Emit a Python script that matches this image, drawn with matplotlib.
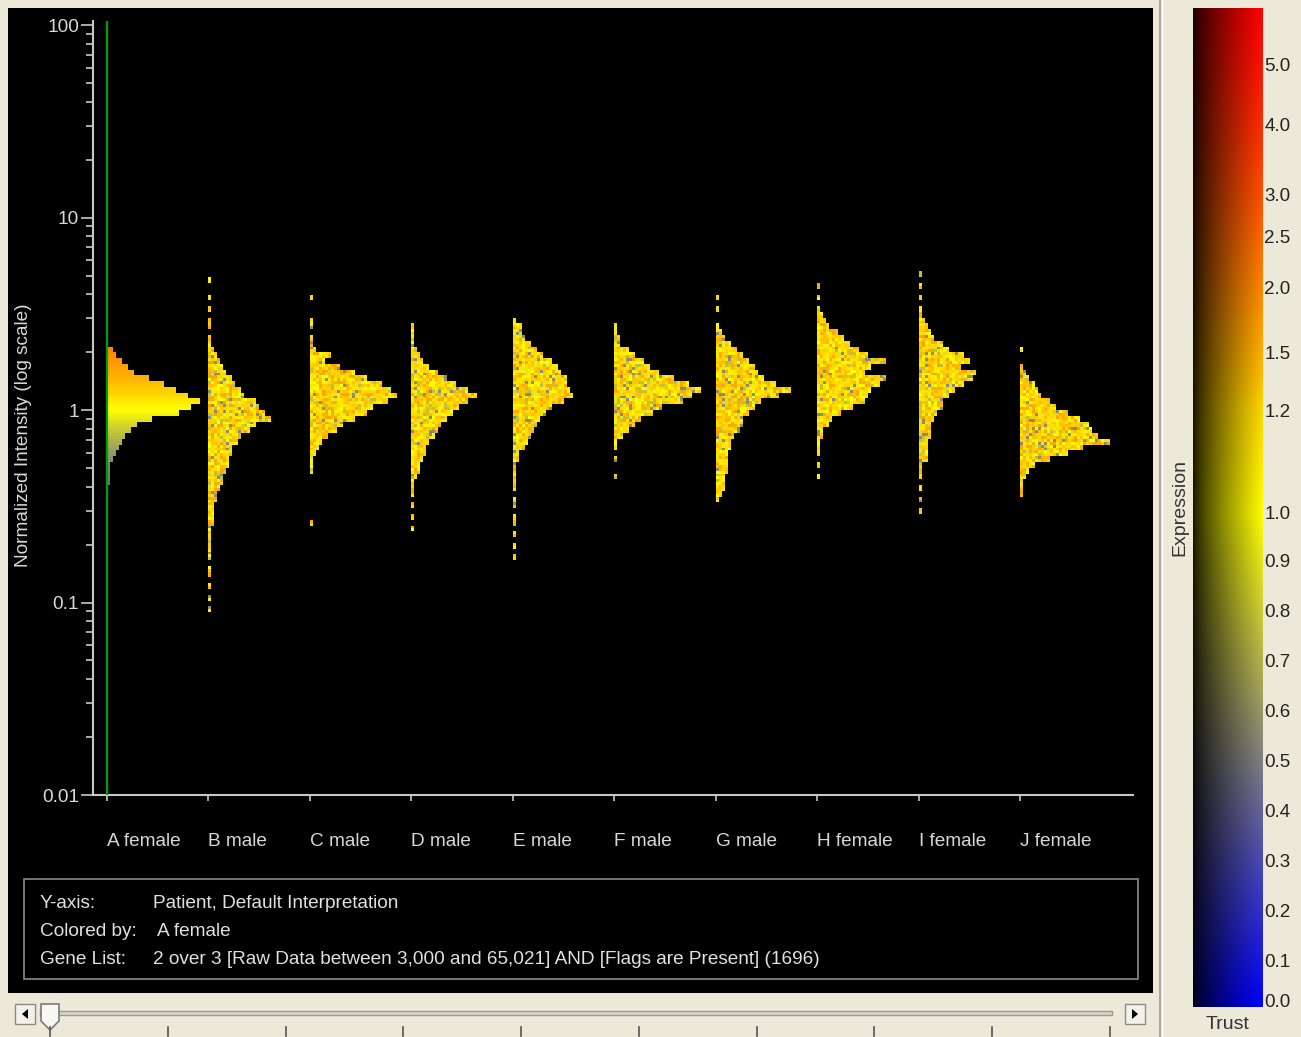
import numpy as np
import matplotlib
matplotlib.use("Agg")
import matplotlib.pyplot as plt
from matplotlib.colors import LinearSegmentedColormap
from matplotlib.patches import Rectangle, Polygon
from matplotlib.ticker import FixedLocator, FixedFormatter, LogLocator, NullFormatter

plt.rcParams['font.family'] = ['Liberation Sans', 'DejaVu Sans']

# ---------------- data ----------------
samples = ["A female", "B male", "C male", "D male", "E male",
           "F male", "G male", "H female", "I female", "J female"]
colored_by_index = 0          # histograms are coloured by "A female"
bin_step = 0.03               # width of one histogram bin in log10(normalized intensity)
# bin k spans 10**(k*bin_step) .. 10**((k+1)*bin_step); counts listed from the top bin downward
top_bin = [10, 22, 19, 14, 15, 14, 19, 21, 23, 10]
counts_A = [5, 7, 14, 21, 27, 40, 55, 68, 80, 93, 84, 70, 45, 30, 24, 18, 13, 10, 7, 5, 3, 2, 2, 1]
counts_B = [1, 0, 0, 1, 0, 1, 0, 1, 1, 0, 1, 2,
            5, 7, 10, 14, 17, 22, 27, 31, 36, 46, 50, 56, 61, 46, 42, 33, 30, 24, 22, 21,
            20, 16, 14, 13, 10, 9, 8, 6, 5, 5, 4, 3, 3, 2, 2, 1, 1,
            0, 1, 1, 0, 1, 0, 1, 0, 1]
counts_C = [1, 0, 0, 0, 2, 1, 0, 2, 3, 5, 20, 15, 30, 45, 57, 70, 80, 87, 78, 62,
            55, 45, 33, 25, 17, 11, 7, 5, 3, 1, 2, 0, 0, 0, 0, 0, 0, 0, 0, 1]
counts_D = [1, 2, 2, 3, 4, 8, 12, 18, 25, 34, 44, 55, 66, 55, 48, 40, 34, 30, 27, 22,
            18, 15, 13, 11, 8, 7, 5, 3, 2, 1, 0, 1, 0, 1, 0, 1]
counts_E = [1, 7, 8, 10, 17, 23, 30, 38, 45, 48, 53, 52, 55, 60, 50, 37, 32, 27, 24, 20,
            17, 13, 10, 5, 4, 3, 2, 1, 1, 1, 0, 1, 1, 0, 1, 1, 0, 1, 0, 1, 0, 1]
counts_F = [1, 3, 4, 5, 13, 20, 30, 35, 45, 58, 74, 87, 78, 68, 47, 38, 27, 20, 13, 7,
            3, 2, 0, 1, 0, 0, 1]
counts_G = [1, 0, 1, 0, 0, 3, 5, 8, 15, 20, 25, 32, 37, 42, 48, 60, 75, 62, 45, 38,
            32, 26, 25, 22, 18, 15, 14, 12, 12, 11, 10, 9, 8, 7, 4, 2]
counts_H = [1, 0, 1, 0, 2, 5, 8, 11, 20, 26, 33, 40, 50, 68, 52, 48, 68, 62, 54, 50,
            47, 35, 22, 13, 10, 5, 4, 2, 1, 1, 0, 1, 0, 1]
counts_I = [1, 0, 1, 0, 2, 0, 2, 3, 5, 8, 11, 14, 22, 28, 44, 50, 40, 56, 52, 44,
            35, 30, 23, 22, 18, 15, 12, 11, 10, 9, 8, 8, 7, 3, 2, 1, 0, 1, 0, 1, 0, 1]
counts_J = [1, 0, 0, 2, 4, 7, 13, 17, 21, 30, 36, 47, 58, 67, 72, 78, 90, 63, 47, 28,
            14, 8, 4, 3, 2, 1]
counts = [counts_A, counts_B, counts_C, counts_D, counts_E,
          counts_F, counts_G, counts_H, counts_I, counts_J]
count_scale = 0.00986         # category-axis units per gene

# A-female expression values of genes, used for the coloured speckle of the other samples
speckle_expr = [0.55, 0.75, 0.9, 1.0, 1.05, 1.1, 1.15, 1.2, 1.2, 1.25, 1.3, 1.35, 1.4, 1.5, 1.6, 1.1]

y_ticks = [0.01, 0.1, 1, 10, 100]
y_tick_labels = ["0.01", "0.1", "1", "10", "100"]
y_limits = (0.01, 105)

# colour bar (Expression vs. Trust)
expr_ticks = [0.0, 0.1, 0.2, 0.3, 0.4, 0.5, 0.6, 0.7, 0.8, 0.9, 1.0, 1.2, 1.5, 2.0, 2.5, 3.0, 4.0, 5.0, 5.95]
expr_tick_labels = ["0.0", "0.1", "0.2", "0.3", "0.4", "0.5", "0.6", "0.7", "0.8", "0.9",
                    "1.0", "1.2", "1.5", "2.0", "2.5", "3.0", "4.0", "5.0", ""]
expr_tick_pos = [0.007, 0.047, 0.097, 0.147, 0.197, 0.247, 0.297, 0.347, 0.397, 0.447,
                 0.495, 0.597, 0.655, 0.720, 0.771, 0.813, 0.883, 0.943, 1.0]
cmap_expr = [0.0, 0.5, 1.0, 1.2, 1.5, 2.0, 2.5, 3.0, 4.0, 5.0, 5.95]
cmap_hex = ['#0000FF', '#808080', '#FFFF00', '#FFD700', '#FFAF00', '#FF8700',
            '#FF6900', '#FF5000', '#FF2D00', '#FF1400', '#FF0000']

info_keys = ["Y-axis:", "Colored by:", "Gene List:"]
info_values = ["Patient, Default Interpretation", "A female",
               "2 over 3 [Raw Data between 3,000 and 65,021] AND [Flags are Present] (1696)"]

# ---------------- helpers ----------------
W, H = 1301, 1037
FS = 13.7
def fx(px):
    return px / W
def fy(py):
    return 1 - py / H

def expr_to_t(v):
    return np.interp(v, expr_ticks, expr_tick_pos)

t_nodes = list(expr_to_t(cmap_expr))
t_nodes[0], t_nodes[-1] = 0.0, 1.0
cmap = LinearSegmentedColormap.from_list('expr', list(zip(t_nodes, cmap_hex)))

BG = '#ECE9D8'
fig = plt.figure(figsize=(W / 100, H / 100), dpi=100, facecolor=BG)

# ---------------- background / UI chrome ----------------
bg = fig.add_axes([0, 0, 1, 1], zorder=-2)
bg.set_xlim(0, W); bg.set_ylim(H, 0); bg.axis('off')
bg.add_patch(Rectangle((0, 0), W, H, facecolor=BG, edgecolor='none'))
bg.add_patch(Rectangle((8, 8), 1145, 985, facecolor='black', edgecolor='none'))
bg.plot([1160, 1160], [0, H], color='#ACA899', lw=1.5)
bg.plot([1161.5, 1161.5], [0, H], color='white', lw=1)

# info box
bg.add_patch(Rectangle((24, 879), 1114, 100, facecolor='none', edgecolor='#8A8A8A', lw=1.2))
for key, val, y, vx in zip(info_keys, info_values, [903, 931, 959], [153, 157, 153]):
    bg.text(40, y, key, color='#E0E0E0', fontsize=FS, ha='left', va='center')
    bg.text(vx, y, val, color='#E0E0E0', fontsize=FS, ha='left', va='center')

# slider
bg.add_patch(Rectangle((40, 1011), 1072, 4, facecolor='#D8D5CB', edgecolor='#9C9A94', lw=1))
for bx, tri in [(15, [(28, 1009), (28, 1019), (22, 1014)]),
                (1125, [(1132, 1009), (1132, 1019), (1138, 1014)])]:
    bg.add_patch(Rectangle((bx, 1004), 20, 20, facecolor='#F2F1EA', edgecolor='#8E8C84', lw=1))
    bg.add_patch(Polygon(tri, closed=True, facecolor='black', edgecolor='none'))
for tx in np.linspace(50, 1110, 10):
    bg.plot([tx, tx], [1027, 1036], color='#555555', lw=1.2)
bg.add_patch(Polygon([(41, 1004), (59, 1004), (59, 1021), (50, 1030), (41, 1021)], closed=True,
                     facecolor='#F7F7F4', edgecolor='#7A7A7A', lw=1.2))

# ---------------- main histogram axes ----------------
ax = fig.add_axes([fx(93), fy(795), fx(1133) - fx(93), fy(21) - fy(795)])
ax.set_facecolor('black')
ax.set_yscale('log')
ax.set_ylim(*y_limits)
ax.set_xlim(-0.138, 10.114)

cell_px = 3.0
for i, (ktop, c) in enumerate(zip(top_bin, counts)):
    c = np.asarray(c, dtype=float)
    nb = len(c)
    kbot = ktop - nb + 1
    sub = 2
    edges_log = (kbot + np.arange(nb * sub + 1) / sub) * bin_step
    Y = 10 ** edges_log
    row_counts = np.repeat(c[::-1], sub)
    ncols = int(np.ceil(c.max() / cell_px)) + 1
    X = i + np.arange(ncols + 1) * cell_px * count_scale
    R, J = np.meshgrid(np.arange(nb * sub), np.arange(ncols), indexing='ij')
    mask = J * cell_px >= row_counts[:, None] - 0.5
    mask[:, 0] = row_counts == 0
    if i == colored_by_index:
        centers = 10 ** ((kbot + (np.arange(nb * sub) + 0.5) / sub) * bin_step)
        vals = np.repeat(centers[:, None], ncols, axis=1)
    else:
        h = np.modf(np.abs(np.sin(R * 12.9898 + J * 78.233 + i * 4.1414) * 43758.5453))[0]
        idx = np.minimum((h * len(speckle_expr)).astype(int), len(speckle_expr) - 1)
        vals = np.asarray(speckle_expr)[idx]
    tv = np.ma.masked_where(mask, expr_to_t(vals))
    ax.pcolormesh(X, Y, tv, cmap=cmap, vmin=0, vmax=1, shading='flat',
                  edgecolors='none', antialiased=False, zorder=2)

ax.axvline(colored_by_index, color='#00A000', lw=1.6, zorder=3)

for s in ['top', 'right']:
    ax.spines[s].set_visible(False)
for s in ['left', 'bottom']:
    ax.spines[s].set_color('#C8C8C8')
    ax.spines[s].set_linewidth(1.5)

ax.yaxis.set_major_locator(FixedLocator(y_ticks))
ax.yaxis.set_major_formatter(FixedFormatter(y_tick_labels))
ax.yaxis.set_minor_locator(LogLocator(base=10, subs=np.arange(2, 10)))
ax.yaxis.set_minor_formatter(NullFormatter())
ax.tick_params(axis='y', which='major', length=9, width=1.2, color='#C8C8C8',
               labelcolor='#D8D8D8', labelsize=FS, pad=1)
ax.tick_params(axis='y', which='minor', length=5, width=1.2, color='#C8C8C8')
ax.set_xticks(range(len(samples)))
ax.set_xticklabels(samples)
ax.tick_params(axis='x', length=4, width=1.2, color='#C8C8C8', labelcolor='#D8D8D8',
               labelsize=FS, pad=23)
for lbl in ax.get_xticklabels():
    lbl.set_ha('left')
ax.set_ylabel("Normalized Intensity (log scale)", color='#D8D8D8', fontsize=FS)
ax.yaxis.set_label_coords(-0.059, 0.465)

# ---------------- colour bar ----------------
cax = fig.add_axes([fx(1193), fy(1007), fx(1263) - fx(1193), fy(8) - fy(1007)])
tgrid = np.linspace(0, 1, 500)
ugrid = np.linspace(0, 1, 60)
base = cmap(tgrid)[:, :3]
img = base[:, None, :] * (0.1 + 0.9 * ugrid ** 0.8)[None, :, None]
cax.imshow(img, extent=[0, 1, 0, 1], origin='lower', aspect='auto', interpolation='bilinear')
cax.set_xlim(0, 1); cax.set_ylim(0, 1)
cax.yaxis.tick_right()
cax.set_yticks(expr_tick_pos)
cax.set_yticklabels(expr_tick_labels)
cax.tick_params(axis='y', length=0, pad=1, labelsize=13.5, labelcolor='#222222')
cax.set_xticks([])
for s in cax.spines.values():
    s.set_visible(False)
cax.text(-0.186, 0.4995, "Expression", rotation=90, transform=cax.transAxes,
         ha='center', va='center', fontsize=14, color='#333333')
cax.text(0.5, -0.018, "Trust", transform=cax.transAxes, ha='center', va='center',
         fontsize=14, color='#333333')

# right-edge clipping of the panel
ov = fig.add_axes([0, 0, 1, 1], zorder=5)
ov.set_xlim(0, W); ov.set_ylim(H, 0); ov.axis('off')
ov.patch.set_visible(False)
ov.add_patch(Rectangle((1290, 0), 11, H, facecolor=BG, edgecolor='none'))

fig.savefig('out.png', dpi=100, facecolor=BG)
